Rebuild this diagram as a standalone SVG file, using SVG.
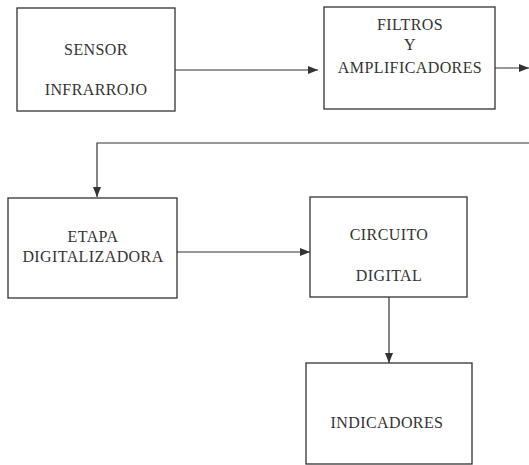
<svg xmlns="http://www.w3.org/2000/svg" width="529" height="465" viewBox="0 0 529 465">
<defs>
<marker id="ah" markerWidth="10" markerHeight="8" refX="10" refY="4" orient="auto" markerUnits="userSpaceOnUse">
<path d="M0,0 L10,4 L0,8 Z" fill="#333"/>
</marker>
</defs>
<style>
.box{fill:#fff;stroke:#333;stroke-width:1.3}
.lbl{font-family:'Liberation Serif','DejaVu Serif',serif;font-size:16px;fill:#333;text-anchor:middle;letter-spacing:0.4px}
.wire{fill:none;stroke:#333;stroke-width:1.2}
</style>
<rect width="529" height="465" fill="#fff"/>
<g id="connectors">
<line class="wire" x1="175" y1="70" x2="318" y2="70" marker-end="url(#ah)"/>
<line class="wire" x1="495" y1="68" x2="529" y2="68" marker-end="url(#ah)"/>
<polyline class="wire" points="529,143 97,143 97,197" marker-end="url(#ah)"/>
<line class="wire" x1="177" y1="252" x2="310" y2="252" marker-end="url(#ah)"/>
<line class="wire" x1="389" y1="297" x2="389" y2="363" marker-end="url(#ah)"/>
</g>
<g id="sensor">
<rect class="box" x="17" y="8" width="158" height="103"/>
<text class="lbl" x="96" y="55">SENSOR</text>
<text class="lbl" x="96" y="95">INFRARROJO</text>
</g>
<g id="filtros">
<rect class="box" x="324" y="7" width="171" height="102"/>
<text class="lbl" x="410" y="30">FILTROS</text>
<text class="lbl" x="410" y="50">Y</text>
<text class="lbl" x="410" y="73">AMPLIFICADORES</text>
</g>
<g id="etapa">
<rect class="box" x="8" y="198" width="169" height="100"/>
<text class="lbl" x="93" y="242">ETAPA</text>
<text class="lbl" x="93" y="262">DIGITALIZADORA</text>
</g>
<g id="circuito">
<rect class="box" x="310" y="197" width="157" height="100"/>
<text class="lbl" x="389" y="240">CIRCUITO</text>
<text class="lbl" x="389" y="281">DIGITAL</text>
</g>
<g id="indicadores">
<rect class="box" x="306" y="363" width="166" height="101"/>
<text class="lbl" x="387" y="428">INDICADORES</text>
</g>
</svg>
